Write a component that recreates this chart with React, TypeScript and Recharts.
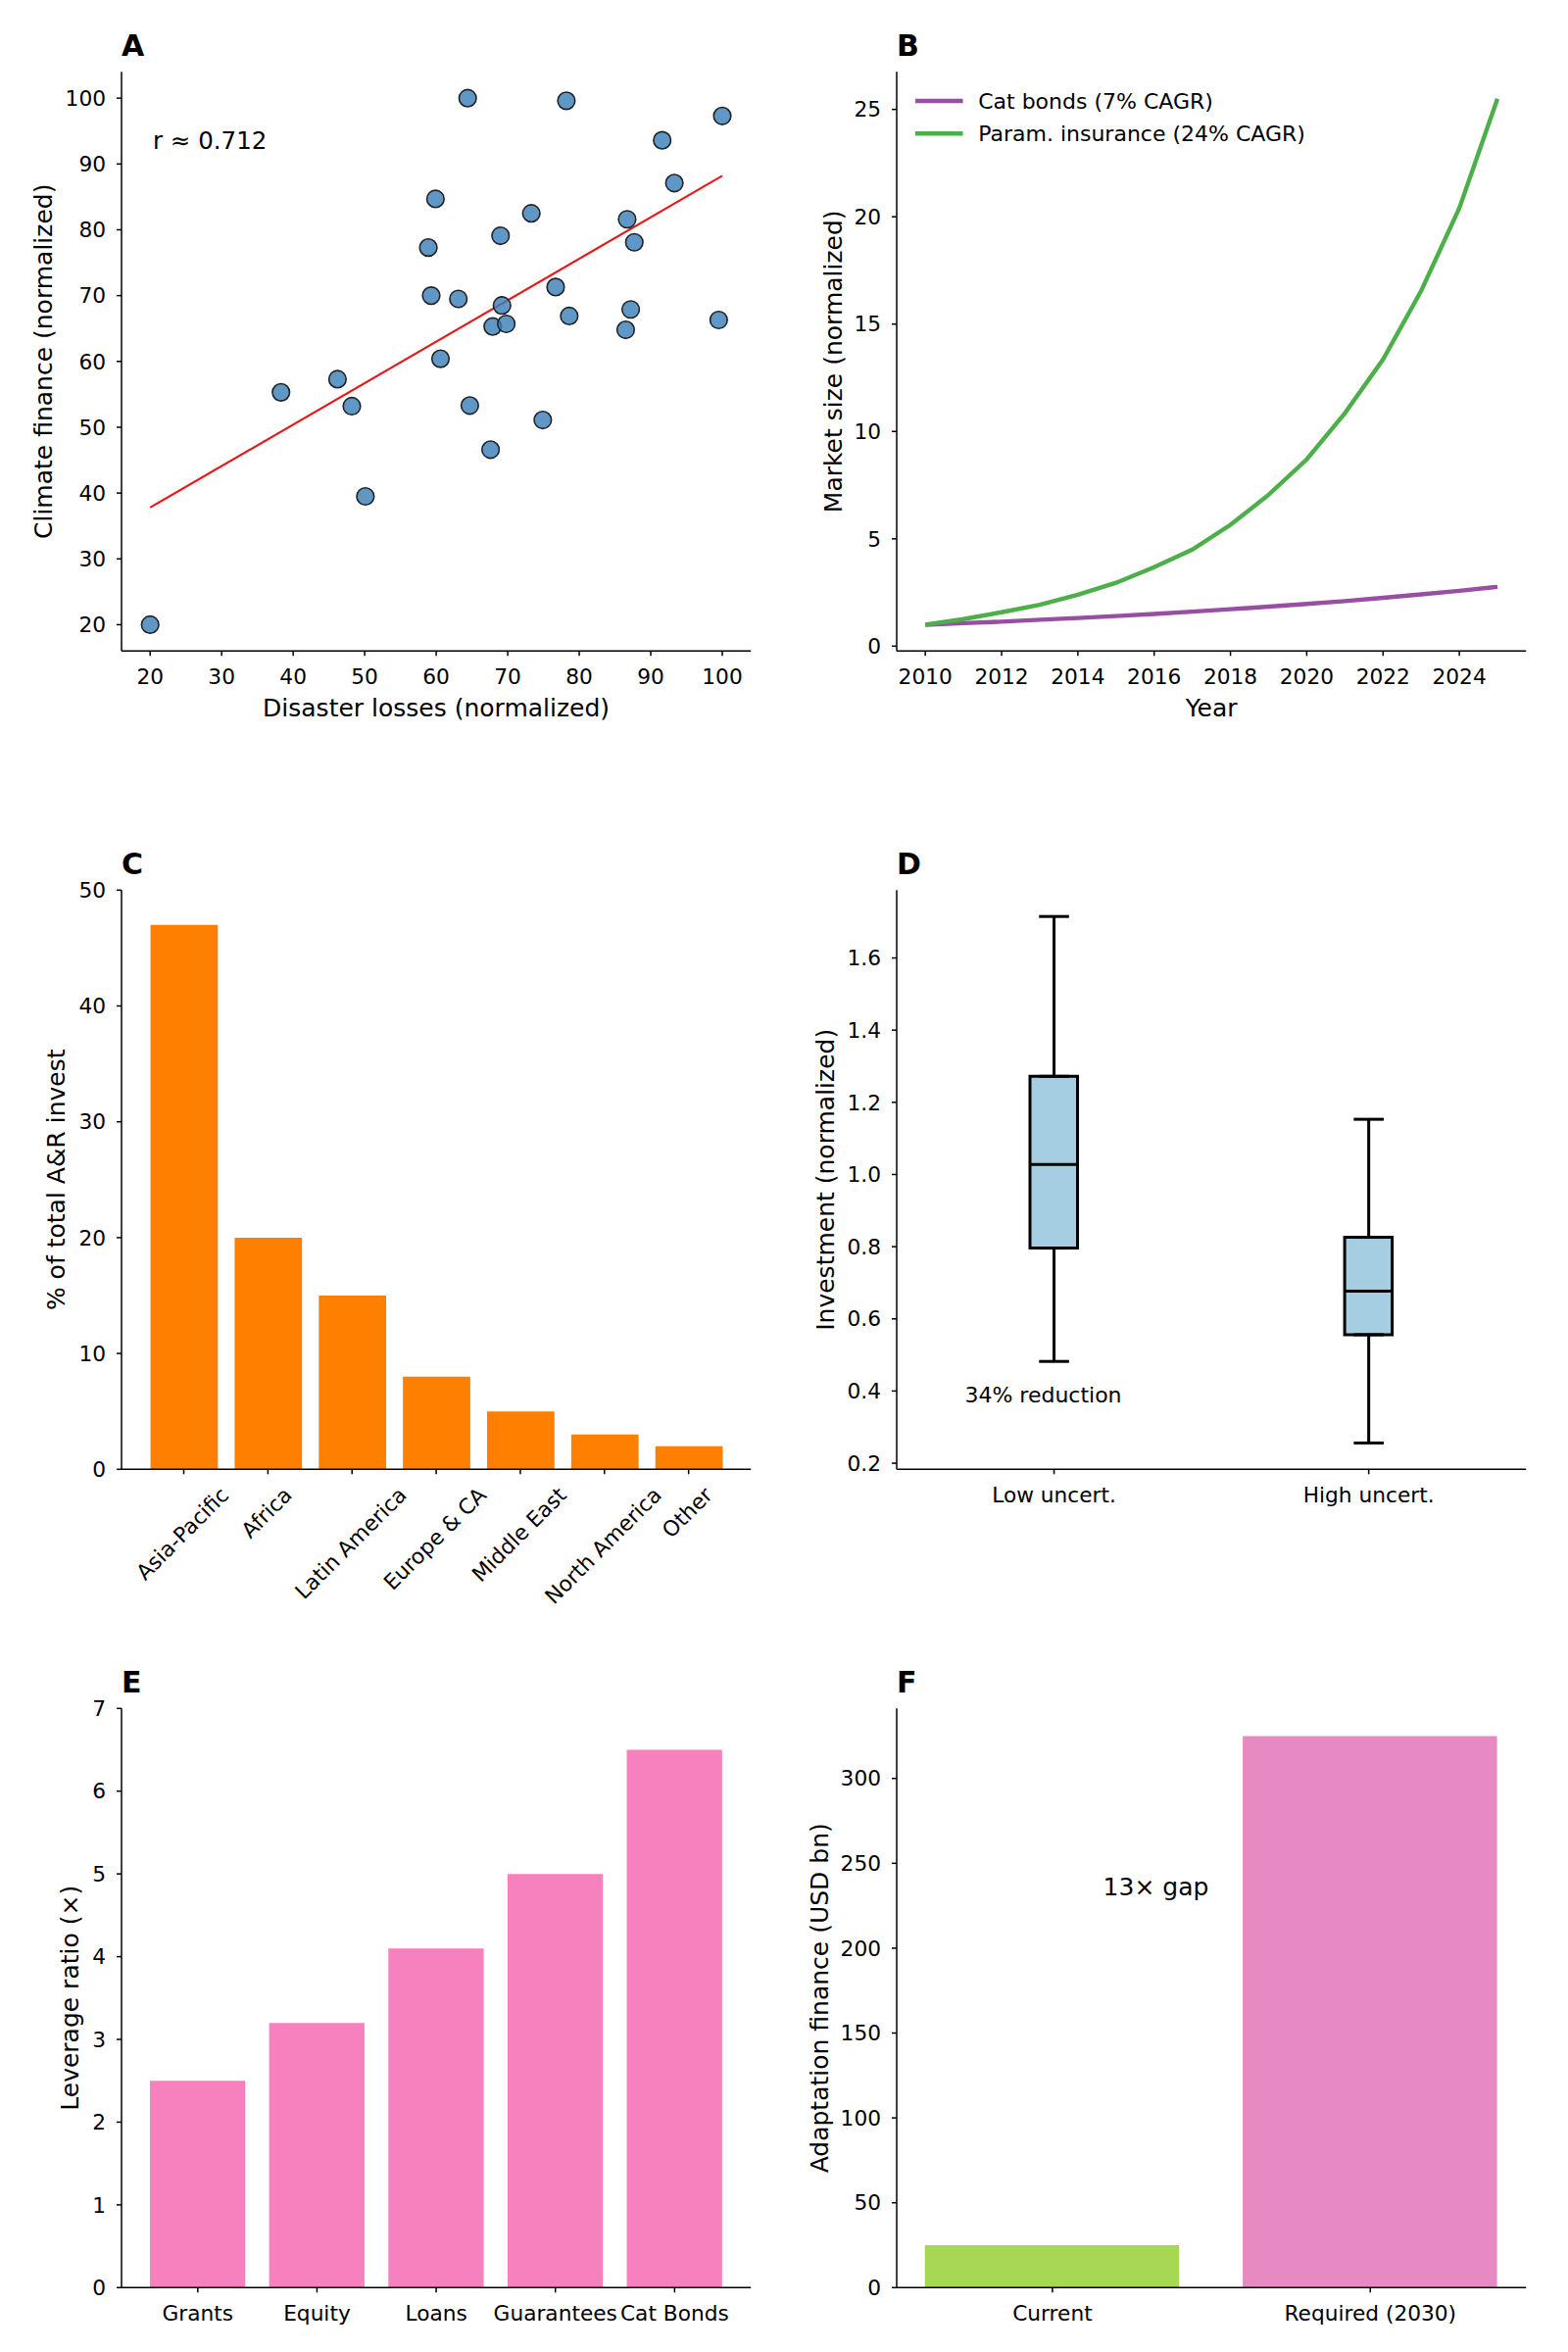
import React from 'react';
import {
  ComposedChart,
  LineChart,
  BarChart,
  Bar,
  Line,
  Scatter,
  XAxis,
  YAxis,
  Cell,
  ErrorBar,
  Legend,
  Label,
} from 'recharts';

// ---------- Panel A: disaster losses vs climate finance ----------
const disasterLosses = [
  20, 38.3, 46.2, 48.2, 50.1, 58.9, 59.3, 59.9, 60.6, 63.1, 64.4, 64.7, 67.6, 67.9, 69.0,
  69.2, 69.8, 73.3, 74.9, 76.7, 78.2, 78.6, 86.5, 86.7, 87.2, 87.7, 91.6, 93.3, 99.5, 100,
];
const climateFinance = [
  20, 55.3, 57.3, 53.2, 39.5, 77.3, 70.0, 84.7, 60.4, 69.5, 100, 53.3, 46.6, 65.3, 79.1,
  68.5, 65.7, 82.5, 51.1, 71.3, 99.6, 66.9, 64.8, 81.6, 67.9, 78.1, 93.6, 87.1, 66.3, 97.3,
];
const trendLosses = [20, 100];
const trendFinance = [37.8, 88.2];
const lossTicks = [20, 30, 40, 50, 60, 70, 80, 90, 100];
const financeTicks = [20, 30, 40, 50, 60, 70, 80, 90, 100];

// ---------- Panel B: market growth ----------
const years = [2010, 2011, 2012, 2013, 2014, 2015, 2016, 2017, 2018, 2019, 2020, 2021, 2022, 2023, 2024, 2025];
const catBondSize = [1.0, 1.07, 1.14, 1.23, 1.31, 1.4, 1.5, 1.61, 1.72, 1.84, 1.97, 2.1, 2.25, 2.41, 2.58, 2.76];
const paramInsuranceSize = [1.0, 1.26, 1.58, 1.93, 2.4, 2.95, 3.68, 4.5, 5.65, 7.05, 8.7, 10.85, 13.35, 16.55, 20.4, 25.5];
const yearTicks = [2010, 2012, 2014, 2016, 2018, 2020, 2022, 2024];
const marketTicks = [0, 5, 10, 15, 20, 25];

// ---------- Panel C: regional share ----------
const regions = ['Asia-Pacific', 'Africa', 'Latin America', 'Europe & CA', 'Middle East', 'North America', 'Other'];
const regionShare = [47, 20, 15, 8, 5, 3, 2];
const shareTicks = [0, 10, 20, 30, 40, 50];

// ---------- Panel D: investment under uncertainty ----------
const uncertaintyGroups = ['Low uncert.', 'High uncert.'];
const whiskerLow = [0.482, 0.256];
const quartile1 = [0.796, 0.556];
const medians = [1.028, 0.677];
const quartile3 = [1.272, 0.826];
const whiskerHigh = [1.715, 1.153];
const investTicks = [0.2, 0.4, 0.6, 0.8, 1.0, 1.2, 1.4, 1.6];

// ---------- Panel E: leverage ----------
const instruments = ['Grants', 'Equity', 'Loans', 'Guarantees', 'Cat Bonds'];
const leverage = [2.5, 3.2, 4.1, 5.0, 6.5];
const leverageTicks = [0, 1, 2, 3, 4, 5, 6, 7];

// ---------- Panel F: adaptation finance gap ----------
const financeNeeds = ['Current', 'Required (2030)'];
const financeBn = [25, 325];
const financeColors = ['#a6d854', '#e78ac3'];
const gapTicks = [0, 50, 100, 150, 200, 250, 300];

// ---------- tables built from the arrays ----------
const scatterRows = disasterLosses.map((x, i) => ({ x, y: climateFinance[i] }));
const trendRows = trendLosses.map((x, i) => ({ x, y: trendFinance[i] }));
const marketRows = years.map((year, i) => ({ year, catBonds: catBondSize[i], paramIns: paramInsuranceSize[i] }));
const regionRows = regions.map((region, i) => ({ region, share: regionShare[i] }));
const boxRows = uncertaintyGroups.map((group, i) => ({
  group,
  box: [quartile1[i], quartile3[i]],
  q1: quartile1[i],
  q3: quartile3[i],
  median: medians[i],
  lowerSpan: [quartile1[i] - whiskerLow[i], 0],
  upperSpan: [0, whiskerHigh[i] - quartile3[i]],
}));
const leverageRows = instruments.map((name, i) => ({ name, ratio: leverage[i] }));
const gapRows = financeNeeds.map((name, i) => ({ name, value: financeBn[i] }));

// ---------- layout ----------
const FONT = '"DejaVu Sans", "Liberation Sans", sans-serif';
const TICK_FS = 21.7;
const LABEL_FS = 25;
const COL_LEFT = [124, 915];
const ROW_TOP = [73.3, 908.3, 1743.3];
const ROW_BOX = [
  { top: 0, height: 800 },
  { top: 800, height: 870 },
  { top: 1670, height: 730 },
];
const PLOT_W = 642.2;
const PLOT_H = 591;
const Y_W = 90;

function frame(col: number, row: number, xH: number) {
  const bx = col === 0 ? 0 : 800;
  const { top: by, height: bh } = ROW_BOX[row];
  const pl = COL_LEFT[col];
  const pt = ROW_TOP[row];
  return {
    box: { left: bx, top: by, width: 800, height: bh },
    margin: {
      left: pl - bx - Y_W,
      top: pt - by,
      right: bx + 800 - pl - PLOT_W,
      bottom: by + bh - pt - PLOT_H - xH,
    },
  };
}

const axisStroke = { stroke: '#000', strokeWidth: 1.5 };
const tickStyle = { fill: '#000', fontSize: TICK_FS, fontFamily: FONT };

const yLabel = (text: string, baselineX: number) => (props: any) => {
  const vb = props.viewBox || {};
  const cy = vb.y + vb.height / 2;
  return (
    <text
      x={baselineX}
      y={cy}
      transform={`rotate(-90 ${baselineX} ${cy})`}
      textAnchor="middle"
      fontSize={LABEL_FS}
      fontFamily={FONT}
      fill="#000"
    >
      {text}
    </text>
  );
};

const xLabel = (text: string, baselineY: number) => (props: any) => {
  const vb = props.viewBox || {};
  const cx = vb.x + vb.width / 2;
  return (
    <text x={cx} y={baselineY} textAnchor="middle" fontSize={LABEL_FS} fontFamily={FONT} fill="#000">
      {text}
    </text>
  );
};

let measureCtx: CanvasRenderingContext2D | null = null;
function textWidth(s: string, size: number) {
  if (!measureCtx && typeof document !== 'undefined') {
    measureCtx = document.createElement('canvas').getContext('2d');
  }
  if (measureCtx) {
    measureCtx.font = `${size}px "DejaVu Sans"`;
    return measureCtx.measureText(s).width;
  }
  return s.length * size * 0.6;
}

// Category label rotated 45 degrees, its bounding box centred under the tick.
const RotatedTick = (props: any) => {
  const { x, y, payload } = props;
  const label = String(payload.value);
  const asc = 0.76 * TICK_FS;
  const desc = 0.24 * TICK_FS;
  const len = textWidth(label, TICK_FS);
  const ex = x + 0.3536 * (asc - desc) + 0.3536 * len;
  const ey = y + 0.7071 * asc;
  return (
    <text
      x={ex}
      y={ey}
      textAnchor="end"
      transform={`rotate(-45 ${ex} ${ey})`}
      fontSize={TICK_FS}
      fontFamily={FONT}
      fill="#000"
    >
      {label}
    </text>
  );
};

const MarketLegend = (props: any) => {
  const items = props.payload || [];
  return (
    <svg width={520} height={80} style={{ display: 'block', overflow: 'visible' }}>
      {items.map((item: any, i: number) => {
        const cy = 14 + i * 33.3;
        return (
          <g key={i}>
            <line x1={0} x2={48.5} y1={cy} y2={cy} stroke={item.color} strokeWidth={4.4} />
            <text x={64.2} y={cy + 7.8} fontSize={22} fontFamily={FONT} fill="#000">
              {item.value}
            </text>
          </g>
        );
      })}
    </svg>
  );
};

const Dot = (props: any) => (
  <circle cx={props.cx} cy={props.cy} r={8.8} fill="#377eb8" fillOpacity={0.8} stroke="#222" strokeWidth={1.6} />
);

const BOX_W = 48.5;
const BOX_LW = 3;
const MedianMark = (props: any) => (
  <line x1={props.cx - BOX_W / 2} x2={props.cx + BOX_W / 2} y1={props.cy} y2={props.cy} stroke="#000" strokeWidth={BOX_LW} />
);
const NoMark = () => <g />;

function Panel({ f, children }: { f: ReturnType<typeof frame>; children: React.ReactNode }) {
  return (
    <div style={{ position: 'absolute', left: f.box.left, top: f.box.top, width: f.box.width, height: f.box.height }}>
      {children}
    </div>
  );
}

export default function App() {
  const fA = frame(0, 0, 90);
  const fB = frame(1, 0, 90);
  const fC = frame(0, 1, 160);
  const fD = frame(1, 1, 90);
  const fE = frame(0, 2, 60);
  const fF = frame(1, 2, 60);

  const letters = [
    { t: 'A', x: COL_LEFT[0], y: ROW_TOP[0] - 16 },
    { t: 'B', x: COL_LEFT[1], y: ROW_TOP[0] - 16 },
    { t: 'C', x: COL_LEFT[0], y: ROW_TOP[1] - 16 },
    { t: 'D', x: COL_LEFT[1], y: ROW_TOP[1] - 16 },
    { t: 'E', x: COL_LEFT[0], y: ROW_TOP[2] - 16 },
    { t: 'F', x: COL_LEFT[1], y: ROW_TOP[2] - 16 },
  ];

  return (
    <div
      style={{
        position: 'absolute',
        left: 0,
        top: 0,
        width: 1600,
        height: 2400,
        background: '#fff',
        fontFamily: FONT,
        overflow: 'hidden',
      }}
    >
      {/* A */}
      <Panel f={fA}>
        <ComposedChart width={800} height={fA.box.height} margin={fA.margin}>
          <XAxis
            type="number"
            dataKey="x"
            domain={[16, 104]}
            ticks={lossTicks}
            allowDataOverflow
            interval={0}
            height={90}
            tickSize={5}
            tickMargin={13}
            axisLine={axisStroke}
            tickLine={axisStroke}
            tick={tickStyle}
          >
            <Label content={xLabel('Disaster losses (normalized)', 731)} />
          </XAxis>
          <YAxis
            type="number"
            domain={[16, 104]}
            ticks={financeTicks}
            allowDataOverflow
            interval={0}
            width={Y_W}
            tickSize={5}
            tickMargin={11}
            axisLine={axisStroke}
            tickLine={axisStroke}
            tick={tickStyle}
          >
            <Label content={yLabel('Climate finance (normalized)', 52.6)} />
          </YAxis>
          <Line data={trendRows} dataKey="y" stroke="#e41a1c" strokeWidth={2.2} dot={false} type="linear" isAnimationActive={false} />
          <Scatter data={scatterRows} dataKey="y" shape={Dot} isAnimationActive={false} />
        </ComposedChart>
      </Panel>

      {/* B */}
      <Panel f={fB}>
        <LineChart width={800} height={fB.box.height} margin={fB.margin} data={marketRows}>
          <XAxis
            type="number"
            dataKey="year"
            domain={[2009.25, 2025.75]}
            ticks={yearTicks}
            allowDataOverflow
            interval={0}
            height={90}
            tickSize={5}
            tickMargin={13}
            axisLine={axisStroke}
            tickLine={axisStroke}
            tick={tickStyle}
          >
            <Label content={xLabel('Year', 731)} />
          </XAxis>
          <YAxis
            type="number"
            domain={[-0.226, 26.75]}
            ticks={marketTicks}
            allowDataOverflow
            interval={0}
            width={Y_W}
            tickSize={5}
            tickMargin={11}
            axisLine={axisStroke}
            tickLine={axisStroke}
            tick={tickStyle}
          >
            <Label content={yLabel('Market size (normalized)', 58.7)} />
          </YAxis>
          <Line dataKey="catBonds" name="Cat bonds (7% CAGR)" stroke="#984ea3" strokeWidth={4.4} dot={false} type="linear" isAnimationActive={false} />
          <Line dataKey="paramIns" name="Param. insurance (24% CAGR)" stroke="#4daf4a" strokeWidth={4.4} dot={false} type="linear" isAnimationActive={false} />
          <Legend
            layout="vertical"
            align="center"
            verticalAlign="middle"
            content={MarketLegend}
            wrapperStyle={{ left: 133.8, top: 89.4, width: 520, height: 80 }}
          />
        </LineChart>
      </Panel>

      {/* C */}
      <Panel f={fC}>
        <BarChart width={800} height={fC.box.height} margin={fC.margin} data={regionRows}>
          <XAxis
            dataKey="region"
            interval={0}
            height={160}
            padding={{ left: 20.6, right: 20.6 }}
            tickSize={5}
            tickMargin={11}
            axisLine={axisStroke}
            tickLine={axisStroke}
            tick={<RotatedTick />}
          />
          <YAxis
            type="number"
            domain={[0, 50]}
            ticks={shareTicks}
            allowDataOverflow
            interval={0}
            width={Y_W}
            tickSize={5}
            tickMargin={11}
            axisLine={axisStroke}
            tickLine={axisStroke}
            tick={tickStyle}
          >
            <Label content={yLabel('% of total A&R invest', 66)} />
          </YAxis>
          <Bar dataKey="share" fill="#ff7f00" barSize={68.7} isAnimationActive={false} />
        </BarChart>
      </Panel>

      {/* D */}
      <Panel f={fD}>
        <ComposedChart width={800} height={fD.box.height} margin={fD.margin} data={boxRows}>
          <XAxis
            dataKey="group"
            interval={0}
            height={90}
            tickSize={5}
            tickMargin={13}
            axisLine={axisStroke}
            tickLine={axisStroke}
            tick={tickStyle}
          />
          <YAxis
            type="number"
            domain={[0.183, 1.788]}
            ticks={investTicks}
            tickFormatter={(v: number) => v.toFixed(1)}
            allowDataOverflow
            interval={0}
            width={Y_W}
            tickSize={5}
            tickMargin={11}
            axisLine={axisStroke}
            tickLine={axisStroke}
            tick={tickStyle}
          >
            <Label content={yLabel('Investment (normalized)', 51)} />
          </YAxis>
          <Bar dataKey="box" fill="#a6cee3" stroke="#000" strokeWidth={BOX_LW} barSize={BOX_W} isAnimationActive={false} />
          <Scatter dataKey="q3" shape={NoMark} isAnimationActive={false}>
            <ErrorBar dataKey="upperSpan" direction="y" width={15.3} stroke="#000" strokeWidth={BOX_LW} isAnimationActive={false} />
          </Scatter>
          <Scatter dataKey="q1" shape={NoMark} isAnimationActive={false}>
            <ErrorBar dataKey="lowerSpan" direction="y" width={15.3} stroke="#000" strokeWidth={BOX_LW} isAnimationActive={false} />
          </Scatter>
          <Scatter dataKey="median" shape={MedianMark} isAnimationActive={false} />
        </ComposedChart>
      </Panel>

      {/* E */}
      <Panel f={fE}>
        <BarChart width={800} height={fE.box.height} margin={fE.margin} data={leverageRows}>
          <XAxis
            dataKey="name"
            interval={0}
            height={60}
            padding={{ left: 17, right: 17 }}
            tickSize={5}
            tickMargin={13}
            axisLine={axisStroke}
            tickLine={axisStroke}
            tick={tickStyle}
          />
          <YAxis
            type="number"
            domain={[0, 7]}
            ticks={leverageTicks}
            allowDataOverflow
            interval={0}
            width={Y_W}
            tickSize={5}
            tickMargin={11}
            axisLine={axisStroke}
            tickLine={axisStroke}
            tick={tickStyle}
          >
            <Label content={yLabel('Leverage ratio (×)', 80)} />
          </YAxis>
          <Bar dataKey="ratio" fill="#f781bf" barSize={97.3} isAnimationActive={false} />
        </BarChart>
      </Panel>

      {/* F */}
      <Panel f={fF}>
        <BarChart width={800} height={fF.box.height} margin={fF.margin} data={gapRows}>
          <XAxis
            dataKey="name"
            interval={0}
            height={60}
            padding={{ left: -3.25, right: -3.25 }}
            tickSize={5}
            tickMargin={13}
            axisLine={axisStroke}
            tickLine={axisStroke}
            tick={tickStyle}
          />
          <YAxis
            type="number"
            domain={[0, 341.25]}
            ticks={gapTicks}
            allowDataOverflow
            interval={0}
            width={Y_W}
            tickSize={5}
            tickMargin={11}
            axisLine={axisStroke}
            tickLine={axisStroke}
            tick={tickStyle}
          >
            <Label content={yLabel('Adaptation finance (USD bn)', 45)} />
          </YAxis>
          <Bar dataKey="value" barSize={259.5} isAnimationActive={false}>
            {gapRows.map((row, i) => (
              <Cell key={row.name} fill={financeColors[i]} />
            ))}
          </Bar>
        </BarChart>
      </Panel>

      {/* panel letters and annotations */}
      <svg
        width={1600}
        height={2400}
        style={{ position: 'absolute', left: 0, top: 0, pointerEvents: 'none' }}
      >
        {letters.map((l) => (
          <text key={l.t} x={l.x} y={l.y} fontSize={30} fontWeight="bold" fontFamily={FONT} fill="#000">
            {l.t}
          </text>
        ))}
        <text x={156} y={151.5} fontSize={24.5} fontFamily={FONT} fill="#000">
          r ≈ 0.712
        </text>
        <text x={1064.5} y={1430.5} fontSize={22} fontFamily={FONT} fill="#000" textAnchor="middle">
          34% reduction
        </text>
        <text x={1179.5} y={1934.4} fontSize={25} fontFamily={FONT} fill="#000" textAnchor="middle">
          13× gap
        </text>
      </svg>
    </div>
  );
}
